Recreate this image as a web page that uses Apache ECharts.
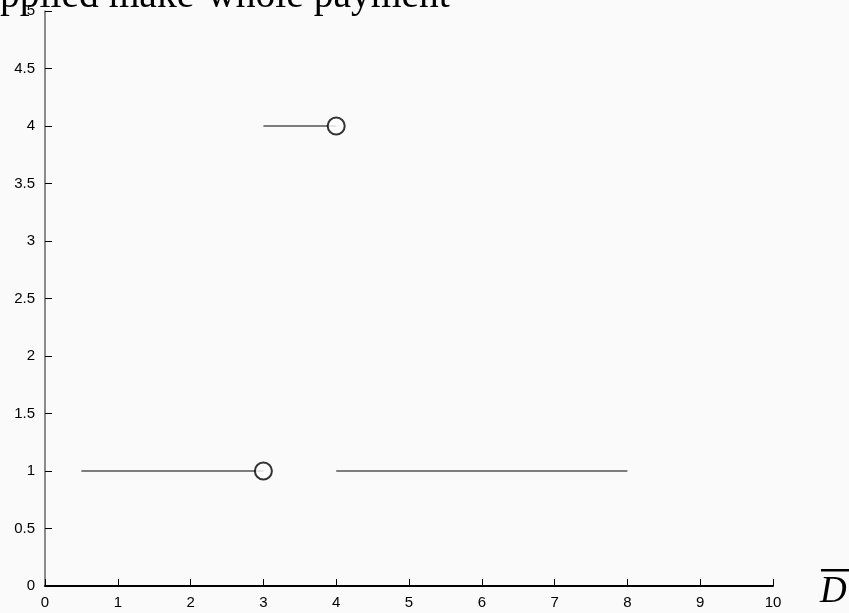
<!DOCTYPE html>
<html>
<head>
<meta charset="utf-8">
<script src="https://cdn.jsdelivr.net/npm/echarts@6/dist/echarts.min.js"></script>
<style>
  html, body { margin: 0; padding: 0; background: #fafafa; }
  #chart { width: 849px; height: 613px; }
</style>
</head>
<body>
<div id="chart"></div>
<script>
// Piecewise payment: each segment is [x, y] pairs; open circle marks the excluded endpoint
const segLow = [[0.5, 1], [3, 1]];
const segHigh = [[3, 4], [4, 4]];
const segTail = [[4, 1], [8, 1]];
const openEnds = [[3, 1], [4, 4]];
const xTicks = [0, 1, 2, 3, 4, 5, 6, 7, 8, 9, 10];
const yTicks = [0, 0.5, 1, 1.5, 2, 2.5, 3, 3.5, 4, 4.5, 5];
const titleText = 'Applied make-whole payment';
const xName = 'D';

const chart = echarts.init(document.getElementById('chart'));

const lineStyle = { color: '#000', width: 1.2 };
function seg(data) {
  return {
    type: 'line', data: data, symbol: 'none', lineStyle: lineStyle,
    animation: false, silent: true
  };
}

const labelFont = { fontFamily: 'Liberation Sans', fontSize: 15, color: '#000' };

chart.setOption({
  backgroundColor: '#fafafa',
  animation: false,
  grid: { left: 45, right: 76, top: 11, bottom: 27 },
  graphic: [
    {
      type: 'text', left: -28.5, top: -23,
      style: { text: titleText, font: '39.5px "Liberation Serif", serif', fill: '#000' }
    },
    {
      // axis name with its overline bar
      type: 'group', left: 820, top: 569,
      children: [
        { type: 'rect', shape: { x: 1, y: 0, width: 30, height: 2.5 }, style: { fill: '#000' } },
        { type: 'text', x: 0, y: 5,
          style: { text: xName, font: 'italic 37px "Liberation Serif", serif', fill: '#000' } }
      ]
    }
  ],
  xAxis: {
    type: 'value', min: xTicks[0], max: xTicks[xTicks.length - 1], interval: 1,
    axisLine: { lineStyle: { color: '#000', width: 2 } },
    axisTick: { inside: true, length: 7, lineStyle: { color: '#000' } },
    axisLabel: Object.assign({ margin: 9 }, labelFont),
    splitLine: { show: false }
  },
  yAxis: {
    type: 'value', min: yTicks[0], max: yTicks[yTicks.length - 1], interval: 0.5,
    axisLine: { show: true, lineStyle: { color: '#666', width: 1.5 } },
    axisTick: { show: true, inside: true, length: 7, lineStyle: { color: '#000' } },
    axisLabel: Object.assign({ margin: 10 }, labelFont),
    splitLine: { show: false }
  },
  series: [
    seg(segLow), seg(segHigh), seg(segTail),
    {
      type: 'scatter', data: openEnds, symbol: 'circle', symbolSize: 17,
      itemStyle: { color: '#fff', borderColor: '#000', borderWidth: 2 },
      animation: false, silent: true, z: 3
    }
  ]
});
</script>
</body>
</html>
